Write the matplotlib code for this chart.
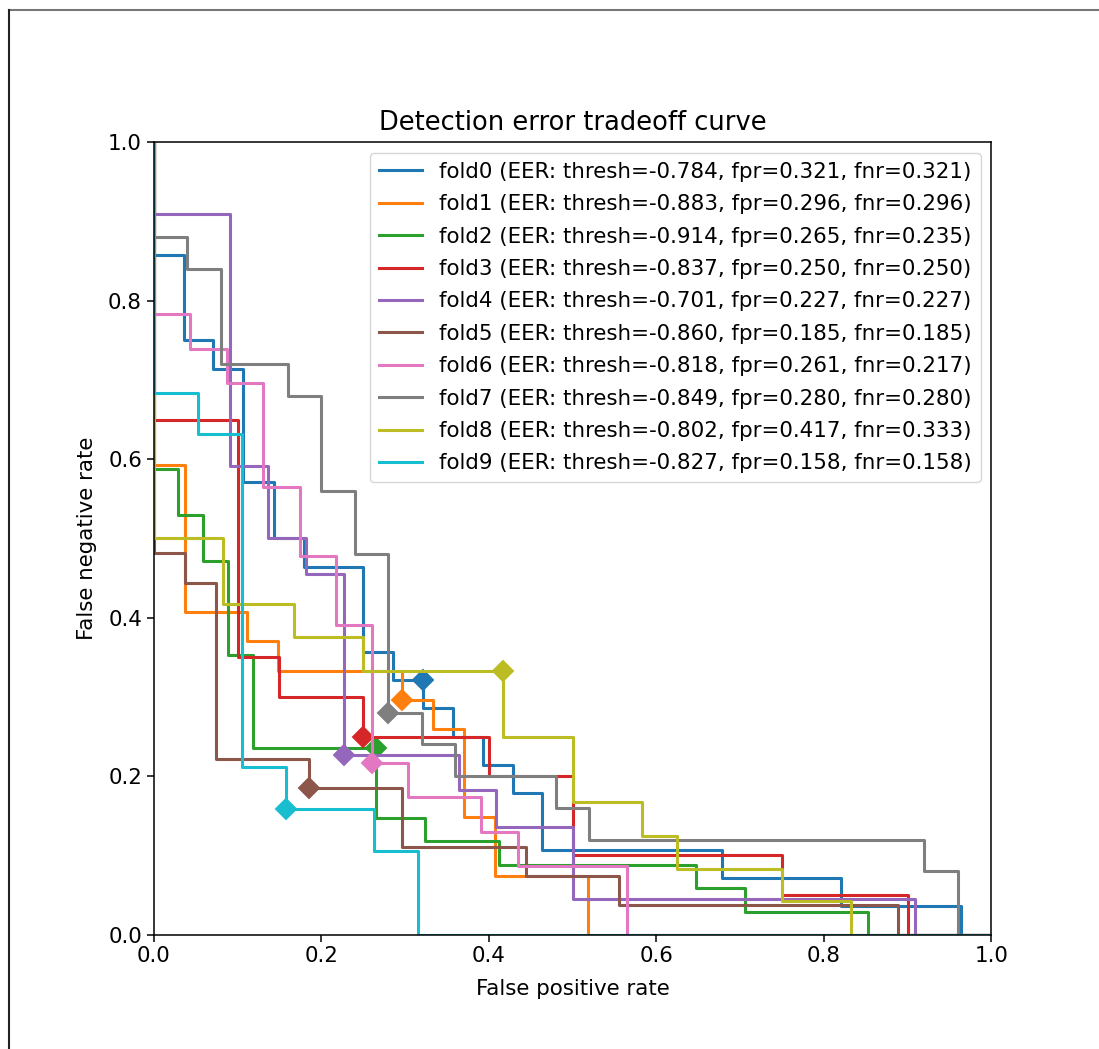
import matplotlib
matplotlib.use("Agg")
import matplotlib.pyplot as plt
from matplotlib.lines import Line2D

# step corners of each DET curve (fpr where fnr drops, fnr after the drop)
fold0_fpr = [0, 0, 0.036, 0.071, 0.107, 0.143, 0.179, 0.25, 0.286, 0.321, 0.357, 0.393, 0.429, 0.464, 0.679, 0.821, 0.964, 1]
fold0_fnr = [1, 0.857, 0.75, 0.714, 0.571, 0.5, 0.464, 0.357, 0.321, 0.286, 0.25, 0.214, 0.179, 0.107, 0.071, 0.036, 0, 0]
fold1_fpr = [0, 0, 0.037, 0.111, 0.148, 0.296, 0.333, 0.370, 0.407, 0.519, 1]
fold1_fnr = [1, 0.593, 0.407, 0.370, 0.333, 0.296, 0.259, 0.148, 0.074, 0, 0]
fold2_fpr = [0, 0, 0.029, 0.059, 0.088, 0.118, 0.265, 0.324, 0.412, 0.647, 0.706, 0.853, 1]
fold2_fnr = [1, 0.588, 0.529, 0.471, 0.353, 0.235, 0.147, 0.118, 0.088, 0.059, 0.029, 0, 0]
fold3_fpr = [0, 0, 0.10, 0.15, 0.25, 0.40, 0.50, 0.75, 0.90, 1]
fold3_fnr = [1, 0.65, 0.35, 0.30, 0.25, 0.20, 0.10, 0.05, 0, 0]
fold4_fpr = [0, 0, 0.091, 0.136, 0.182, 0.227, 0.364, 0.409, 0.5, 0.909, 1]
fold4_fnr = [1, 0.909, 0.591, 0.5, 0.455, 0.227, 0.182, 0.136, 0.045, 0, 0]
fold5_fpr = [0, 0, 0.037, 0.074, 0.185, 0.296, 0.444, 0.556, 0.889, 1]
fold5_fnr = [1, 0.481, 0.444, 0.222, 0.185, 0.111, 0.074, 0.037, 0, 0]
fold6_fpr = [0, 0, 0.043, 0.087, 0.130, 0.174, 0.217, 0.261, 0.304, 0.391, 0.435, 0.565, 1]
fold6_fnr = [1, 0.783, 0.739, 0.696, 0.565, 0.478, 0.391, 0.217, 0.174, 0.130, 0.087, 0, 0]
fold7_fpr = [0, 0, 0.04, 0.08, 0.16, 0.20, 0.24, 0.28, 0.32, 0.36, 0.48, 0.52, 0.92, 0.96, 1]
fold7_fnr = [1, 0.88, 0.84, 0.72, 0.68, 0.56, 0.48, 0.28, 0.24, 0.20, 0.16, 0.12, 0.08, 0, 0]
fold8_fpr = [0, 0, 0.083, 0.167, 0.25, 0.417, 0.5, 0.583, 0.625, 0.75, 0.833, 1]
fold8_fnr = [1, 0.5, 0.417, 0.375, 0.333, 0.25, 0.167, 0.125, 0.083, 0.042, 0, 0]
fold9_fpr = [0, 0, 0.053, 0.105, 0.158, 0.263, 0.316, 1]
fold9_fnr = [1, 0.684, 0.632, 0.211, 0.158, 0.105, 0, 0]

# equal error rate points
eer_thresh = [-0.784, -0.883, -0.914, -0.837, -0.701, -0.860, -0.818, -0.849, -0.802, -0.827]
eer_fpr = [0.321, 0.296, 0.265, 0.250, 0.227, 0.185, 0.261, 0.280, 0.417, 0.158]
eer_fnr = [0.321, 0.296, 0.235, 0.250, 0.227, 0.185, 0.217, 0.280, 0.333, 0.158]

curves_fpr = [fold0_fpr, fold1_fpr, fold2_fpr, fold3_fpr, fold4_fpr,
              fold5_fpr, fold6_fpr, fold7_fpr, fold8_fpr, fold9_fpr]
curves_fnr = [fold0_fnr, fold1_fnr, fold2_fnr, fold3_fnr, fold4_fnr,
              fold5_fnr, fold6_fnr, fold7_fnr, fold8_fnr, fold9_fnr]

fig = plt.figure(figsize=(10.99, 10.49), dpi=100)
ax = fig.add_axes([0.140, 0.109, 0.762, 0.7555])

for i in range(10):
    c = 'C%d' % i
    label = 'fold%d (EER: thresh=%.3f, fpr=%.3f, fnr=%.3f)' % (i, eer_thresh[i], eer_fpr[i], eer_fnr[i])
    ax.step(curves_fpr[i], curves_fnr[i], where='post', color=c, lw=2.2, label=label)
    ax.plot(eer_fpr[i], eer_fnr[i], 'D', color=c, markersize=10.5, mew=1.4)

ax.set_xlim(0, 1)
ax.set_ylim(0, 1)
ax.set_title('Detection error tradeoff curve', fontsize=18.5, pad=9)
ax.set_xlabel('False positive rate', fontsize=15.4, labelpad=9)
ax.set_ylabel('False negative rate', fontsize=15.4, labelpad=8)
ax.tick_params(labelsize=15.4, length=5, width=1.1)
for s in ax.spines.values():
    s.set_linewidth(1.1)
ax.legend(loc='upper right', fontsize=15.4, handlelength=2.0,
          labelspacing=0.58, borderpad=0.42)

# frame of the screenshot (top and left edges only)
fig.add_artist(Line2D([9 / 1099, 1], [1 - 10 / 1049, 1 - 10 / 1049], transform=fig.transFigure, color='#777777', lw=1.5))
fig.add_artist(Line2D([9 / 1099, 9 / 1099], [0, 1 - 10 / 1049], transform=fig.transFigure, color='#222222', lw=1.5))

fig.savefig('out.png', dpi=100)
